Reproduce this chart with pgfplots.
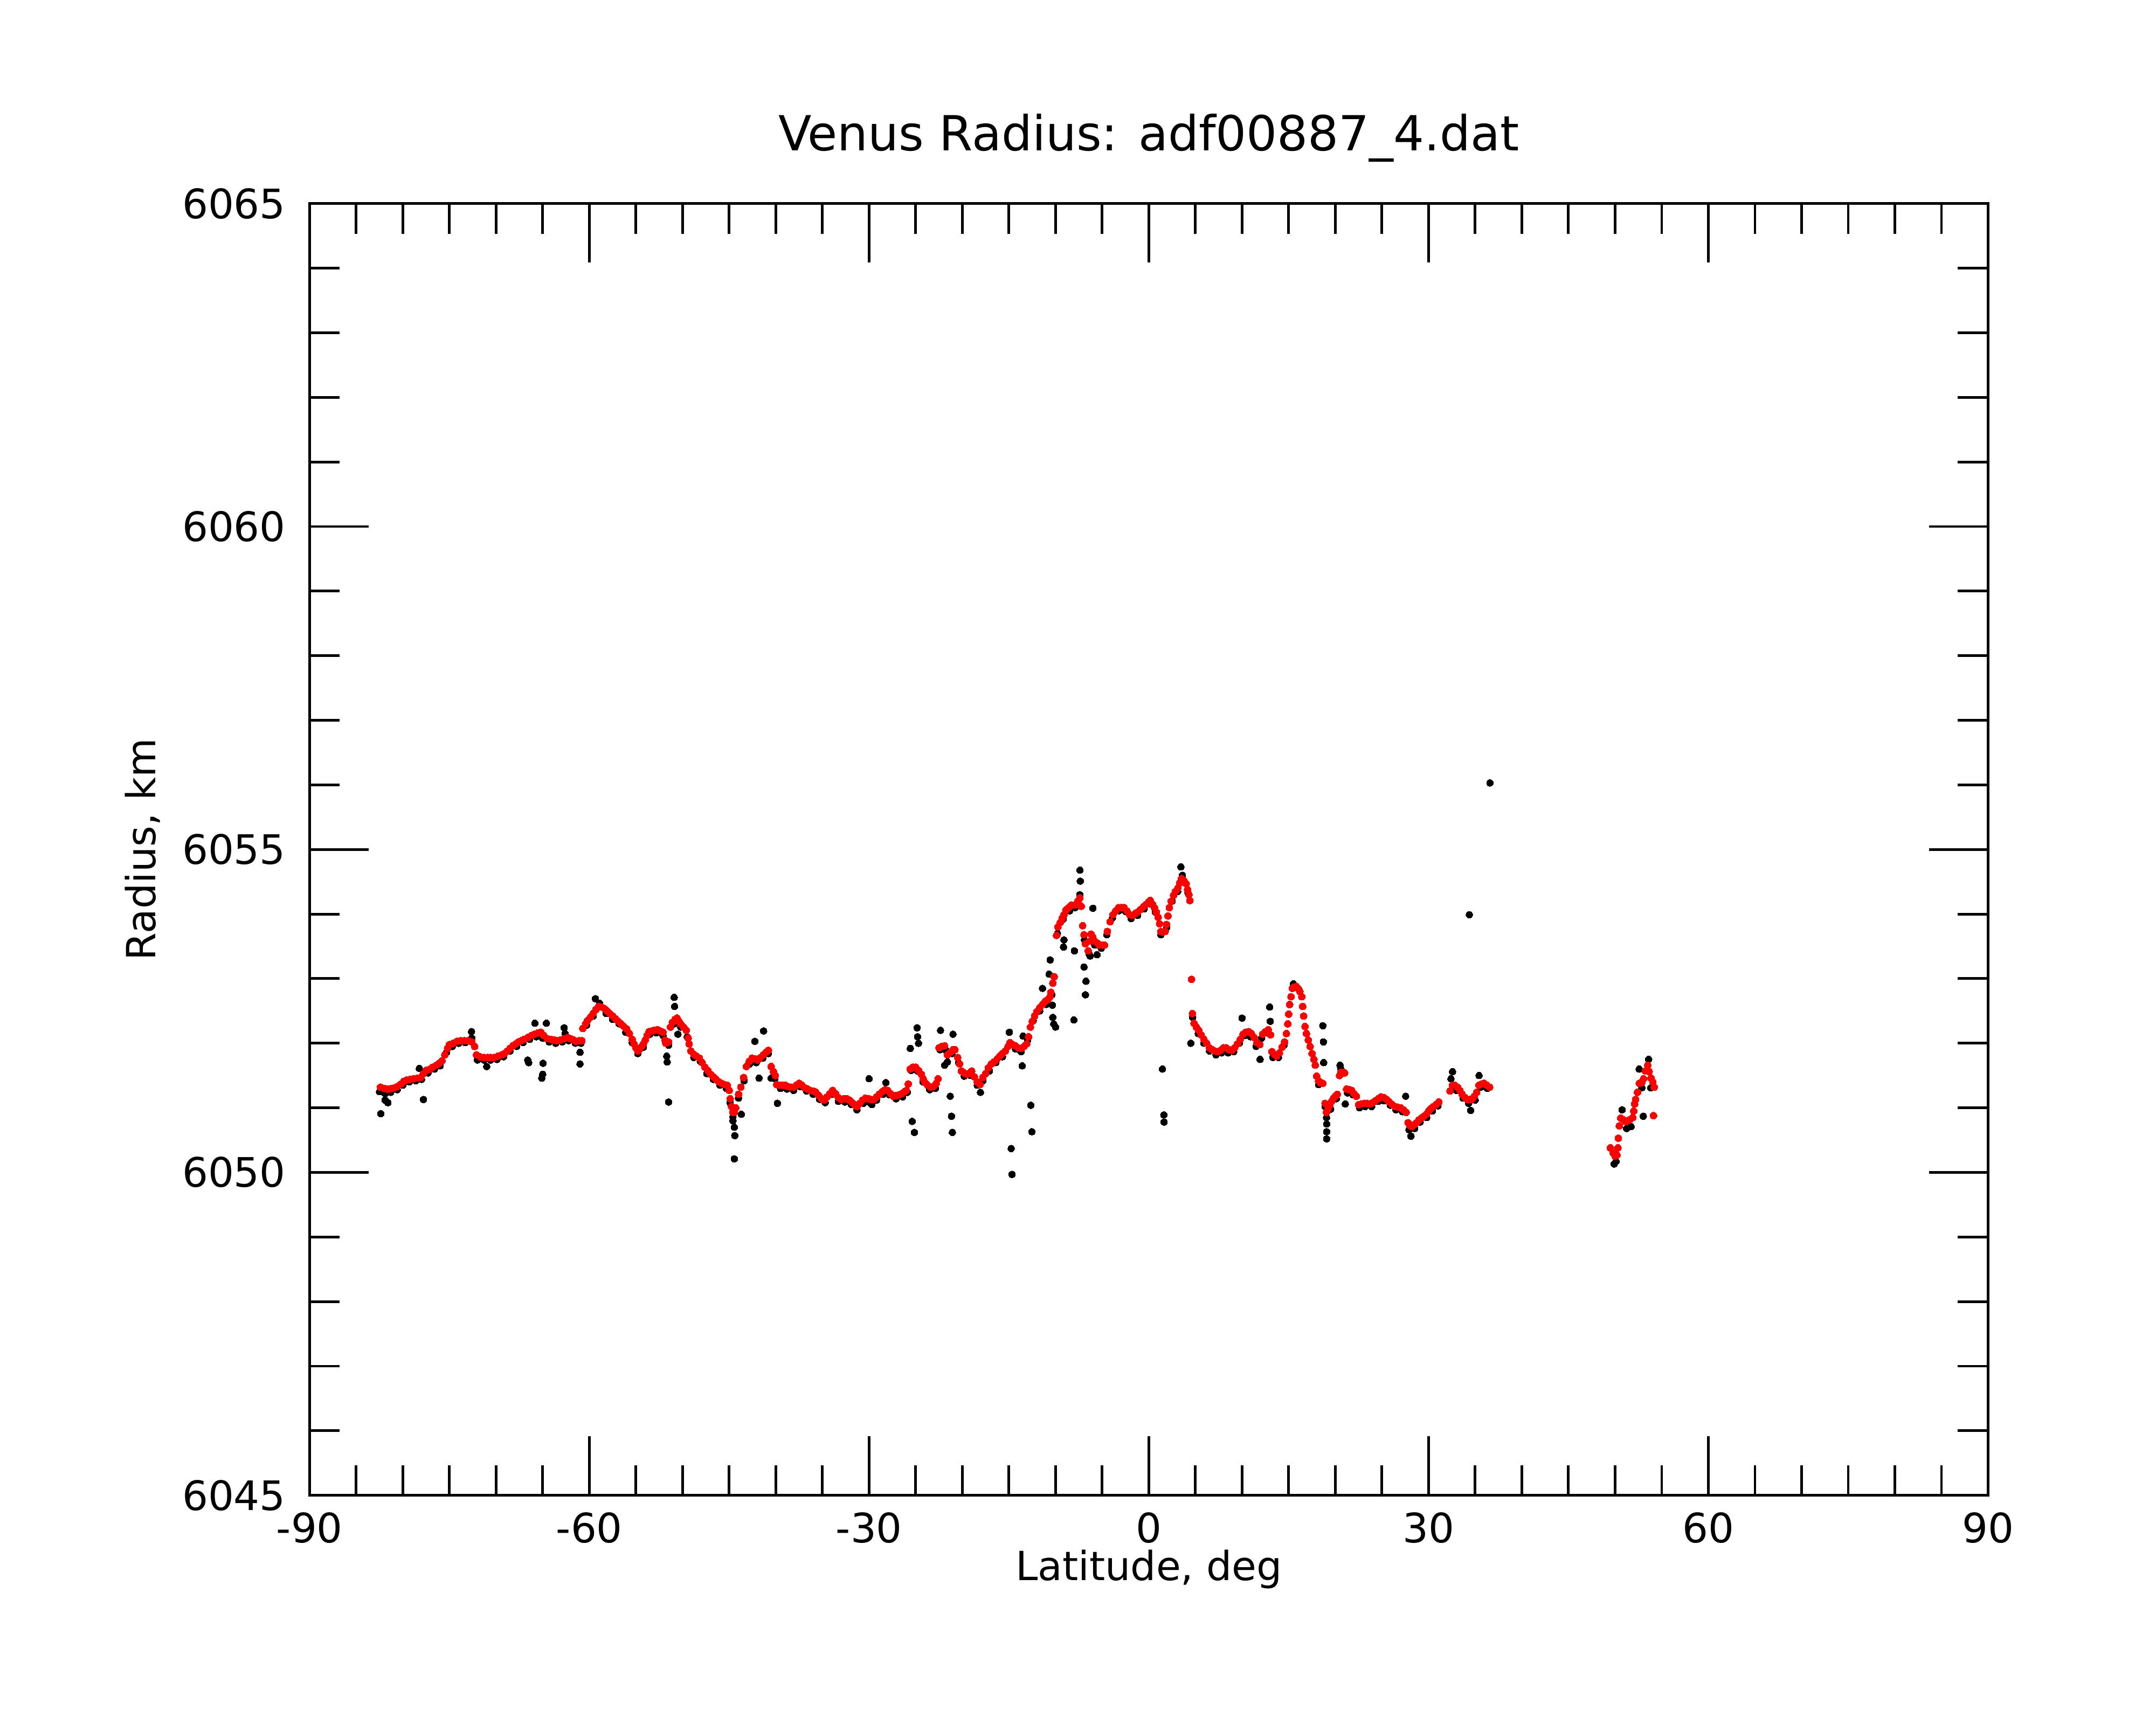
\documentclass[border=0pt]{standalone}
\usepackage{fontspec}
\setmainfont{DejaVu Sans}
\usepackage{pgfplots}
\pgfplotsset{compat=1.18}
\begin{document}
\begin{tikzpicture}
\path[use as bounding box] (-2.25cm,-1.66cm) rectangle (13.42cm,10.87cm);
\begin{axis}[
 at={(0,0)}, anchor=south west,
 scale only axis, width=12.2cm, height=9.39cm,
 xmin=-90, xmax=90, ymin=6045, ymax=6065,
 xtick={-90,-60,-30,0,30,60,90}, xticklabels={-90,-60,-30,0,30,60,90},
 ytick={6045,6050,6055,6060,6065}, yticklabels={6045,6050,6055,6060,6065},
 minor x tick num=5, minor y tick num=4,
 tick align=inside, major tick length=0.43cm, minor tick length=0.22cm,
 tick style={black, line width=0.55pt},
 axis line style={line width=0.55pt},
 tick label style={font=\fontsize{8.4}{10}\selectfont},
 yticklabel style={xshift=-0.05cm},
 title={Venus Radius: adf00887\_4.dat},
 title style={at={(axis description cs:0.5,1.0185)}, anchor=base, font=\fontsize{10}{12}\selectfont},
 xlabel={Latitude, deg},
 xlabel style={at={(axis description cs:0.5,-0.066)}, anchor=base, font=\fontsize{8.3}{10}\selectfont},
 ylabel={Radius, km},
 ylabel style={at={(axis description cs:-0.0918,0.5)}, anchor=base, font=\fontsize{8.3}{10}\selectfont},
 clip=false,
]
% black dots (base)
\addplot[only marks, color=black, mark=*, mark size=0.7pt, mark options={draw=black, fill=black, line width=0pt}] coordinates {
(-82.5,6051.25) (-81.9,6051.22) (-81.3,6051.24) (-80.6,6051.28) (-80.0,6051.35) (-79.3,6051.40) (-78.6,6051.42) (-78.0,6051.44) (-77.3,6051.54) (-76.6,6051.60) (-76.0,6051.65) (-75.3,6051.86) (-74.7,6051.95) (-74.0,6052.00) (-73.3,6052.01) (-72.6,6052.08) (-72.0,6051.74) (-71.3,6051.74) (-70.6,6051.74) (-69.9,6051.75) (-69.2,6051.79) (-68.5,6051.88) (-67.8,6051.95) (-67.1,6052.01) (-66.4,6052.06) (-65.7,6052.10) (-65.0,6052.08) (-64.3,6052.02) (-63.6,6052.00) (-62.9,6052.02) (-62.2,6052.04) (-61.5,6052.00) (-60.9,6052.00) (-60.3,6052.28) (-59.6,6052.42) (-58.9,6052.62) (-58.2,6052.46) (-57.5,6052.37) (-56.8,6052.30) (-56.1,6052.17) (-55.4,6052.01) (-54.8,6051.84) (-54.2,6051.94) (-53.5,6052.14) (-52.8,6052.16) (-52.1,6052.12) (-51.5,6051.97) (-50.9,6052.30) (-50.2,6052.25) (-49.5,6052.10) (-48.8,6051.78) (-48.1,6051.72) (-47.4,6051.53) (-46.7,6051.44) (-46.0,6051.35) (-45.3,6051.30) (-44.9,6051.08) (-44.6,6050.86) (-44.0,6051.15) (-43.4,6051.42) (-42.8,6051.68) (-42.1,6051.70) (-41.4,6051.77) (-40.8,6051.84) (-40.1,6051.45) (-39.5,6051.30) (-38.8,6051.29) (-38.1,6051.27) (-37.4,6051.33) (-36.7,6051.26) (-36.0,6051.21) (-35.3,6051.13) (-34.7,6051.08) (-34.0,6051.21) (-33.3,6051.10) (-32.6,6051.09) (-31.9,6051.05) (-31.3,6050.97) (-30.6,6051.07) (-29.9,6051.08) (-29.2,6051.12) (-28.5,6051.21) (-27.8,6051.20) (-27.1,6051.14) (-26.4,6051.17) (-25.9,6051.24) (-25.5,6051.58) (-24.8,6051.57) (-24.2,6051.40) (-23.5,6051.28) (-22.9,6051.30) (-22.4,6051.90) (-21.8,6051.90) (-21.1,6051.84) (-20.4,6051.70) (-19.8,6051.49) (-19.1,6051.50) (-18.4,6051.35) (-17.8,6051.42) (-17.1,6051.57) (-16.4,6051.70) (-15.7,6051.79) (-15.0,6051.97) (-14.3,6051.91) (-13.7,6051.87) (-13.0,6052.05) (-12.4,6052.35) (-11.7,6052.50) (-11.0,6052.60) (-10.4,6052.75) (-9.8,6053.70) (-9.2,6053.92) (-8.5,6054.05) (-7.9,6054.10) (-7.4,6054.30) (-6.9,6053.60) (-6.4,6053.38) (-5.8,6053.52) (-5.1,6053.47) (-4.5,6053.68) (-3.9,6053.94) (-3.2,6054.05) (-2.5,6054.04) (-1.9,6053.93) (-1.2,6053.98) (-0.5,6054.08) (0.1,6054.16) (0.7,6054.03) (1.3,6053.68) (1.9,6053.79) (2.5,6054.20) (3.1,6054.35) (3.6,6054.60) (4.2,6054.33)
(4.7,6052.40) (5.3,6052.15) (5.9,6052.00) (6.5,6051.88) (7.2,6051.82) (7.8,6051.85) (8.5,6051.85) (9.1,6051.87) (9.7,6052.00) (10.3,6052.12) (10.9,6052.10) (11.5,6051.95) (12.1,6052.08) (12.7,6052.16) (13.3,6051.78) (13.9,6051.78) (14.5,6051.97) (15.5,6052.92) (16.1,6052.83) (18.2,6051.36) (18.9,6051.02) (19.5,6050.98) (20.1,6051.14) (20.6,6051.60) (21.3,6051.23) (21.9,6051.20) (22.6,6051.00) (23.2,6051.02) (23.9,6051.02) (24.6,6051.10) (25.2,6051.11) (25.9,6051.04) (26.5,6050.97) (27.2,6050.94) (27.9,6050.66) (28.5,6050.68) (29.1,6050.78) (29.8,6050.85) (30.4,6050.95) (31.0,6051.03) (32.4,6051.45) (33.0,6051.27) (33.7,6051.15) (34.3,6051.07) (35.0,6051.12) (35.6,6051.32) (36.3,6051.30)
(49.9,6050.13) (50.1,6050.17) (50.75,6050.97) (51.23,6050.68) (51.71,6050.71) (52.58,6051.60) (52.87,6051.31) (53.6,6051.75) (53.83,6051.31) (53.02,6050.87)
};
% black outliers
\addplot[only marks, color=black, mark=*, mark size=0.7pt, mark options={draw=black, fill=black, line width=0pt}] coordinates {
(-82.36,6050.91) (-81.9,6051.12) (-81.6,6051.08) (-78.23,6051.61) (-77.79,6051.13) (-72.63,6052.18) (-71.0,6051.64) (-66.6,6051.74) (-66.5,6051.70) (-65.84,6052.31) (-65.1,6051.46) (-65.0,6051.52) (-64.96,6051.69) (-64.6,6052.31) (-62.7,6052.24) (-62.6,6052.15) (-61.0,6051.86) (-61.0,6051.68) (-59.35,6052.69) (-50.9,6052.71) (-50.85,6052.57) (-50.5,6052.14) (-51.7,6051.80) (-51.65,6051.71) (-51.5,6051.09) (-44.45,6050.70) (-44.4,6050.57) (-44.45,6050.21) (-43.7,6050.90) (-44.6,6050.80) (-42.25,6052.03) (-41.31,6052.19) (-41.8,6051.46) (-40.5,6051.46) (-39.83,6051.07) (-30.0,6051.45) (-28.2,6051.39) (-29.7,6051.05) (-25.38,6050.79) (-25.14,6050.62) (-25.58,6051.92) (-24.85,6052.24) (-24.8,6052.10) (-24.7,6052.00) (-22.34,6052.20) (-21.0,6052.14) (-21.9,6051.66) (-21.6,6051.71) (-21.3,6051.18) (-21.16,6050.87) (-21.07,6050.62) (-18.06,6051.24) (-14.96,6052.17) (-14.76,6050.37) (-14.67,6049.97) (-13.58,6051.65) (-13.49,6052.11) (-12.66,6051.04) (-12.54,6050.63) (-11.4,6052.85) (-10.7,6053.07) (-10.58,6053.29) (-10.34,6052.59) (-10.3,6052.40) (-10.2,6052.30) (-10.0,6052.25) (-8.04,6052.36) (-7.39,6054.68) (-7.35,6054.51) (-9.1,6053.60) (-9.15,6053.49) (-7.98,6053.43) (-6.95,6053.18) (-6.74,6052.96) (-6.8,6052.75) (-6.0,6054.09) (-6.3,6053.35) (-5.56,6053.37) (1.46,6051.60) (1.61,6050.89) (1.63,6050.78) (3.44,6054.73) (4.50,6052.00) (10.0,6052.39) (11.93,6051.75) (12.96,6052.56) (13.02,6052.34) (18.66,6052.27) (18.72,6052.02) (18.75,6051.70) (19.07,6050.75) (19.07,6050.63) (19.07,6050.52) (19.05,6050.85) (20.5,6051.66) (21.07,6051.06) (27.54,6051.18) (28.11,6050.56) (32.57,6051.56) (35.41,6051.50) (34.51,6050.96) (34.37,6053.99) (36.58,6056.03)
};
% red dots
\addplot[only marks, color=red, mark=*, mark size=0.72pt, mark options={draw=red, fill=red, line width=0pt}] coordinates {
(-82.4,6051.32) (-82.0,6051.30) (-81.6,6051.29) (-81.2,6051.30) (-80.9,6051.31) (-80.6,6051.33) (-80.2,6051.37) (-79.9,6051.41) (-79.6,6051.43) (-79.2,6051.44) (-78.8,6051.45) (-78.4,6051.46) (-78.1,6051.47) (-77.8,6051.53) (-77.5,6051.58) (-77.1,6051.60) (-76.8,6051.63) (-76.4,6051.66) (-76.1,6051.69) (-75.8,6051.73) (-75.5,6051.82) (-75.2,6051.92) (-75.0,6051.98) (-74.6,6052.00) (-74.2,6052.03) (-73.8,6052.04) (-73.4,6052.04) (-73.0,6052.04) (-72.6,6052.02) (-72.3,6051.95) (-72.1,6051.82) (-71.7,6051.79) (-71.3,6051.78) (-70.9,6051.78) (-70.6,6051.78) (-70.2,6051.78) (-69.8,6051.80) (-69.4,6051.82) (-69.1,6051.84) (-68.8,6051.88) (-68.5,6051.92) (-68.2,6051.96) (-67.9,6051.99) (-67.6,6052.02) (-67.3,6052.04) (-67.0,6052.06) (-66.6,6052.09) (-66.2,6052.12) (-65.9,6052.14) (-65.5,6052.16) (-65.2,6052.17) (-64.9,6052.12) (-64.5,6052.07) (-64.1,6052.06) (-63.8,6052.05) (-63.5,6052.04) (-63.1,6052.05) (-62.7,6052.07) (-62.3,6052.09) (-62.0,6052.07) (-61.7,6052.05) (-61.4,6052.03) (-61.1,6052.04) (-60.8,6052.04) (-60.7,6052.23) (-60.4,6052.30) (-60.2,6052.35) (-59.9,6052.40) (-59.6,6052.46) (-59.3,6052.52) (-59.0,6052.57) (-58.7,6052.56) (-58.4,6052.54) (-58.1,6052.50) (-57.8,6052.46) (-57.5,6052.42) (-57.2,6052.38) (-56.9,6052.34) (-56.6,6052.30) (-56.3,6052.26) (-56.0,6052.22) (-55.7,6052.15) (-55.4,6052.06) (-55.2,6051.99) (-55.0,6051.93) (-54.8,6051.88) (-54.6,6051.91) (-54.4,6051.95) (-54.2,6051.99) (-54.0,6052.05) (-53.8,6052.12) (-53.6,6052.18) (-53.3,6052.19) (-53.0,6052.20) (-52.7,6052.21) (-52.4,6052.19) (-52.1,6052.17) (-51.9,6052.05) (-51.8,6052.00) (-51.5,6052.02) (-51.3,6052.25) (-51.1,6052.32) (-50.8,6052.37) (-50.6,6052.39) (-50.4,6052.34) (-50.2,6052.30) (-49.9,6052.25) (-49.6,6052.20) (-49.4,6052.08) (-49.3,6051.99) (-49.1,6051.88) (-48.8,6051.83) (-48.5,6051.80) (-48.2,6051.77) (-47.9,6051.70) (-47.6,6051.63) (-47.3,6051.58) (-47.0,6051.52) (-46.7,6051.48) (-46.4,6051.44) (-46.1,6051.40) (-45.8,6051.38) (-45.5,6051.36) (-45.2,6051.35) (-45.0,6051.27) (-44.9,6051.14) (-44.75,6051.02) (-44.6,6050.93) (-44.45,6050.93) (-44.3,6051.00) (-44.0,6051.21) (-43.75,6051.32) (-43.45,6051.47) (-43.15,6051.64) (-42.85,6051.72) (-42.55,6051.77) (-42.25,6051.76) (-41.95,6051.74) (-41.65,6051.78) (-41.35,6051.82) (-41.05,6051.86) (-40.8,6051.89) (-40.5,6051.64) (-40.25,6051.56) (-40.05,6051.50) (-39.9,6051.36) (-39.6,6051.35) (-39.3,6051.35) (-39.0,6051.35) (-38.7,6051.33) (-38.4,6051.32) (-38.1,6051.32) (-37.8,6051.35) (-37.5,6051.38) (-37.2,6051.35) (-36.9,6051.31) (-36.6,6051.29) (-36.3,6051.27) (-36.0,6051.26) (-35.7,6051.24) (-35.4,6051.19) (-35.1,6051.14) (-34.8,6051.12) (-34.5,6051.17) (-34.2,6051.22) (-33.9,6051.27) (-33.6,6051.22) (-33.3,6051.16) (-33.0,6051.13) (-32.7,6051.14) (-32.4,6051.14) (-32.1,6051.12) (-31.8,6051.08) (-31.5,6051.04) (-31.3,6051.02) (-31.0,6051.07) (-30.7,6051.12) (-30.4,6051.15) (-30.1,6051.14) (-29.8,6051.13) (-29.5,6051.13) (-29.2,6051.17) (-28.9,6051.21) (-28.6,6051.25) (-28.3,6051.28) (-28.0,6051.27) (-27.7,6051.22) (-27.4,6051.18) (-27.1,6051.19) (-26.8,6051.20) (-26.5,6051.22) (-26.2,6051.25) (-26.0,6051.27) (-25.8,6051.37) (-25.6,6051.60) (-25.3,6051.63) (-25.0,6051.63) (-24.7,6051.58) (-24.4,6051.52) (-24.2,6051.45) (-24.0,6051.39) (-23.7,6051.35) (-23.4,6051.32) (-23.1,6051.33) (-22.8,6051.38) (-22.6,6051.45) (-22.5,6051.93) (-22.2,6051.95) (-21.9,6051.96) (-21.6,6051.82) (-21.3,6051.86) (-21.0,6051.90) (-20.8,6051.90) (-20.5,6051.78) (-20.3,6051.68) (-20.1,6051.57) (-19.8,6051.54) (-19.5,6051.52) (-19.2,6051.54) (-19.0,6051.57) (-18.7,6051.48) (-18.4,6051.40) (-18.1,6051.36) (-17.8,6051.47) (-17.5,6051.53) (-17.2,6051.62) (-16.9,6051.68) (-16.6,6051.71) (-16.3,6051.75) (-16.0,6051.80) (-15.7,6051.84) (-15.4,6051.88) (-15.1,6051.95) (-14.9,6052.01) (-14.6,6051.98) (-14.3,6051.96) (-14.0,6051.93) (-13.7,6051.92) (-13.4,6051.95) (-13.1,6051.99) (-12.9,6052.10) (-12.7,6052.25) (-12.5,6052.34) (-12.25,6052.42) (-12.0,6052.49) (-11.7,6052.55) (-11.4,6052.60) (-11.1,6052.65) (-10.8,6052.68) (-10.6,6052.72) (-10.5,6052.79) (-10.3,6052.93) (-10.15,6053.03) (-9.9,6053.67) (-9.75,6053.80) (-9.5,6053.87) (-9.3,6053.93) (-9.1,6053.99) (-8.9,6054.06) (-8.6,6054.10) (-8.3,6054.14) (-8.0,6054.14) (-7.8,6054.15) (-7.6,6054.20) (-7.4,6054.25) (-7.25,6054.12) (-7.1,6053.82) (-6.95,6053.68) (-6.8,6053.54) (-6.5,6053.43) (-6.35,6053.58) (-6.2,6053.69) (-6.0,6053.64) (-5.8,6053.58) (-5.5,6053.55) (-5.3,6053.52) (-5.0,6053.52) (-4.75,6053.52) (-4.45,6053.73) (-4.15,6053.88) (-3.85,6053.99) (-3.55,6054.05) (-3.25,6054.10) (-2.95,6054.10) (-2.65,6054.10) (-2.35,6054.05) (-2.05,6053.99) (-1.75,6053.98) (-1.45,6054.01) (-1.2,6054.03) (-0.9,6054.07) (-0.6,6054.11) (-0.3,6054.15) (0.0,6054.19) (0.15,6054.21) (0.4,6054.15) (0.6,6054.10) (0.8,6054.03) (1.0,6053.95) (1.15,6053.85) (1.3,6053.73) (1.5,6053.72) (1.75,6053.73) (1.9,6053.84) (2.05,6053.97) (2.2,6054.10) (2.4,6054.20) (2.65,6054.29) (2.85,6054.35) (3.1,6054.40) (3.3,6054.48) (3.5,6054.55) (3.75,6054.52) (4.0,6054.47) (4.15,6054.38) (4.3,6054.30) (4.4,6054.21)
(4.58,6052.99) (4.68,6052.46) (4.85,6052.31) (5.1,6052.25) (5.35,6052.20) (5.6,6052.13) (5.9,6052.06) (6.2,6052.00) (6.5,6051.93) (6.8,6051.90) (7.1,6051.88) (7.4,6051.87) (7.7,6051.89) (8.0,6051.93) (8.3,6051.93) (8.6,6051.90) (8.9,6051.89) (9.2,6051.93) (9.5,6051.99) (9.8,6052.06) (10.1,6052.14) (10.4,6052.17) (10.7,6052.18) (11.0,6052.15) (11.3,6052.09) (11.6,6052.01) (11.9,6051.98) (12.2,6052.14) (12.5,6052.18) (12.8,6052.21) (13.05,6052.13) (13.2,6051.87) (13.45,6051.83) (13.7,6051.80) (14.0,6051.85) (14.3,6051.94) (14.55,6052.02) (14.75,6052.15) (14.9,6052.30) (15.0,6052.45) (15.1,6052.60) (15.25,6052.72) (15.4,6052.85) (15.6,6052.87) (15.8,6052.88) (16.0,6052.85) (16.2,6052.80) (16.4,6052.72) (16.5,6052.57) (16.6,6052.42) (16.75,6052.26) (16.9,6052.15) (17.1,6052.05) (17.3,6051.95) (17.5,6051.84) (17.7,6051.75) (17.85,6051.66) (18.0,6051.49) (18.2,6051.42) (18.4,6051.39) (18.65,6051.38) (18.9,6051.07) (19.05,6050.93) (19.2,6050.98) (19.4,6051.04) (19.6,6051.10) (19.8,6051.15) (20.0,6051.18) (20.2,6051.21) (20.45,6051.50) (20.6,6051.55) (20.8,6051.55) (21.0,6051.54) (21.2,6051.29) (21.5,6051.28) (21.75,6051.27) (22.0,6051.22) (22.25,6051.18) (22.5,6051.05) (22.8,6051.06) (23.1,6051.07) (23.4,6051.07) (23.7,6051.06) (24.0,6051.08) (24.3,6051.11) (24.6,6051.14) (24.9,6051.17) (25.2,6051.16) (25.5,6051.13) (25.8,6051.09) (26.1,6051.05) (26.4,6051.02) (26.7,6051.01) (27.0,6051.00) (27.3,6050.97) (27.6,6050.93) (27.8,6050.77) (28.0,6050.73) (28.2,6050.71) (28.45,6050.74) (28.7,6050.77) (28.95,6050.81) (29.2,6050.84) (29.5,6050.87) (29.75,6050.90) (30.0,6050.95) (30.25,6050.99) (30.5,6051.02) (30.8,6051.05) (31.1,6051.09)
(32.3,6051.26) (32.55,6051.35) (32.8,6051.35) (33.1,6051.32) (33.35,6051.27) (33.6,6051.21) (33.9,6051.16) (34.15,6051.13) (34.4,6051.13) (34.65,6051.13) (34.9,6051.18) (35.15,6051.24) (35.4,6051.35) (35.7,6051.37) (35.95,6051.38) (36.25,6051.35) (36.55,6051.32)
(49.5,6050.38) (49.8,6050.30) (50.0,6050.25) (50.2,6050.27) (50.3,6050.38) (50.35,6050.53) (50.45,6050.72) (50.6,6050.84) (50.85,6050.82) (51.1,6050.79) (51.35,6050.80) (51.6,6050.82) (51.9,6050.85) (52.0,6050.95) (52.1,6051.06) (52.2,6051.13) (52.4,6051.24) (52.6,6051.38) (52.85,6051.39) (53.05,6051.45) (53.25,6051.57) (53.5,6051.66) (53.65,6051.56) (53.85,6051.46) (54.05,6051.40) (54.2,6051.32) (54.12,6050.88)
};
\end{axis}
\end{tikzpicture}
\end{document}
